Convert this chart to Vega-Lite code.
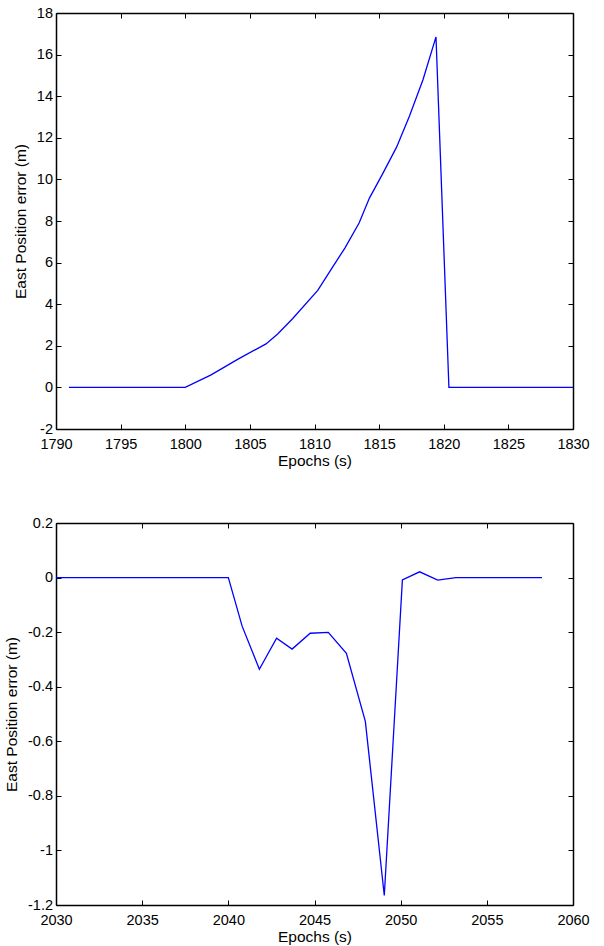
{
  "$schema": "https://vega.github.io/schema/vega-lite/v6.json",
  "background": "white",
  "padding": {"left": 4, "top": 5, "right": 0, "bottom": 0},
  "spacing": 46,
  "config": {
    "font": "Liberation Sans",
    "view": {"stroke": null},
    "axis": {
      "domainColor": "black",
      "domainWidth": 1.5,
      "tickColor": "black",
      "tickSize": -5,
      "tickWidth": 1,
      "labelColor": "black",
      "labelFontSize": 14.5,
      "labelFont": "Liberation Sans",
      "labelFlush": false,
      "labelOverlap": false,
      "titleFont": "Liberation Sans",
      "titleFontSize": 15.5,
      "titleFontWeight": "normal",
      "titleColor": "black",
      "grid": false
    },
    "axisX": {"labelPadding": 13.5, "titlePadding": 2},
    "axisY": {"labelPadding": 8.5, "titlePadding": 8}
  },
  "vconcat": [
    {
      "width": 517,
      "height": 416,
      "data": {"values": [
        {"epoch": 1791, "err": 0},
        {"epoch": 1800, "err": 0},
        {"epoch": 1802, "err": 0.6},
        {"epoch": 1804.05, "err": 1.35},
        {"epoch": 1806.25, "err": 2.09},
        {"epoch": 1807.15, "err": 2.57},
        {"epoch": 1808.3, "err": 3.3},
        {"epoch": 1810.25, "err": 4.66},
        {"epoch": 1811.35, "err": 5.73},
        {"epoch": 1812.35, "err": 6.7},
        {"epoch": 1813.45, "err": 7.9},
        {"epoch": 1814.25, "err": 9.1},
        {"epoch": 1815.3, "err": 10.3},
        {"epoch": 1816.35, "err": 11.55},
        {"epoch": 1817.35, "err": 13.05},
        {"epoch": 1818.4, "err": 14.8},
        {"epoch": 1819.4, "err": 16.85},
        {"epoch": 1820.4, "err": 0},
        {"epoch": 1830, "err": 0}
      ]},
      "layer": [
        {
          "mark": {"type": "line", "color": "#0000ff", "strokeWidth": 1.3},
          "encoding": {
            "x": {"field": "epoch", "type": "quantitative",
              "scale": {"domain": [1790, 1830], "nice": false, "zero": false},
              "axis": {"orient": "bottom", "title": "Epochs (s)", "values": [1790, 1795, 1800, 1805, 1810, 1815, 1820, 1825, 1830], "format": "d"}},
            "y": {"field": "err", "type": "quantitative",
              "scale": {"domain": [-2, 18], "nice": false, "zero": false},
              "axis": {"orient": "left", "title": "East Position error (m)", "values": [-2, 0, 2, 4, 6, 8, 10, 12, 14, 16, 18],
                "labelExpr": "datum.value < 0 ? '-' + format(-datum.value, '~g') : format(datum.value, '~g')"}}
          }
        },
        {
          "mark": {"type": "line", "opacity": 0},
          "encoding": {
            "x": {"field": "epoch", "type": "quantitative",
              "axis": {"orient": "top", "labels": false, "title": null, "values": [1790, 1795, 1800, 1805, 1810, 1815, 1820, 1825, 1830]}},
            "y": {"field": "err", "type": "quantitative",
              "axis": {"orient": "right", "labels": false, "title": null, "values": [-2, 0, 2, 4, 6, 8, 10, 12, 14, 16, 18]}}
          }
        }
      ],
      "resolve": {"axis": {"x": "independent", "y": "independent"}}
    },
    {
      "width": 517,
      "height": 382,
      "data": {"values": [
        {"epoch": 2030, "err": 0},
        {"epoch": 2040, "err": 0},
        {"epoch": 2040.8, "err": -0.178},
        {"epoch": 2041.8, "err": -0.336},
        {"epoch": 2042.8, "err": -0.222},
        {"epoch": 2043.7, "err": -0.262},
        {"epoch": 2044.75, "err": -0.204},
        {"epoch": 2045.8, "err": -0.201},
        {"epoch": 2046.85, "err": -0.278},
        {"epoch": 2047.95, "err": -0.527},
        {"epoch": 2049.05, "err": -1.165},
        {"epoch": 2050.1, "err": -0.009},
        {"epoch": 2051.1, "err": 0.021},
        {"epoch": 2052.15, "err": -0.009},
        {"epoch": 2053.2, "err": 0},
        {"epoch": 2058.2, "err": 0}
      ]},
      "layer": [
        {
          "mark": {"type": "line", "color": "#0000ff", "strokeWidth": 1.3},
          "encoding": {
            "x": {"field": "epoch", "type": "quantitative",
              "scale": {"domain": [2030, 2060], "nice": false, "zero": false},
              "axis": {"orient": "bottom", "title": "Epochs (s)", "values": [2030, 2035, 2040, 2045, 2050, 2055, 2060], "format": "d"}},
            "y": {"field": "err", "type": "quantitative",
              "scale": {"domain": [-1.2, 0.2], "nice": false, "zero": false},
              "axis": {"orient": "left", "title": "East Position error (m)", "values": [-1.2, -1, -0.8, -0.6, -0.4, -0.2, 0, 0.2],
                "labelExpr": "datum.value < 0 ? '-' + format(-datum.value, '~g') : format(datum.value, '~g')"}}
          }
        },
        {
          "mark": {"type": "line", "opacity": 0},
          "encoding": {
            "x": {"field": "epoch", "type": "quantitative",
              "axis": {"orient": "top", "labels": false, "title": null, "values": [2030, 2035, 2040, 2045, 2050, 2055, 2060]}},
            "y": {"field": "err", "type": "quantitative",
              "axis": {"orient": "right", "labels": false, "title": null, "values": [-1.2, -1, -0.8, -0.6, -0.4, -0.2, 0, 0.2]}}
          }
        }
      ],
      "resolve": {"axis": {"x": "independent", "y": "independent"}}
    }
  ]
}
